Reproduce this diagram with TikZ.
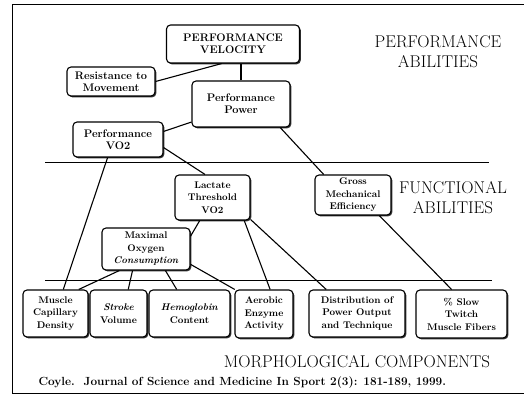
\documentclass[tikz,border=0pt]{standalone}
\usetikzlibrary{shadows}

\begin{document}
\begin{tikzpicture}[x=1pt, y=-1pt,
		box/.style={draw, line width=1.1pt, rounded corners=4pt, fill=white, align=center, inner sep=1pt,
			drop shadow={shadow xshift=1.3pt, shadow yshift=-1.3pt, fill=black!80, opacity=1}},
		big/.style={box, font=\fontsize{11}{12}\selectfont\bfseries},
		small/.style={box, font=\fontsize{9.7}{12.5}\selectfont\bfseries},
		head/.style={align=center, font=\fontsize{17}{20}\selectfont},
		link/.style={line width=1.1pt}]
		\useasboundingbox (0,0) rectangle (524,395);

		% Frame and levels
		\draw[line width=1pt] (524,5) -- (12,5) -- (12,393) -- (524,393);
		\draw[line width=1pt] (45,163) -- (489,163);
		\draw[line width=1pt] (45,280) -- (492,280);

		% Performance abilities
		\node[big, minimum width=133pt, minimum height=38pt] (vel) at (233,44) {PERFORMANCE\\VELOCITY};
		\node[big, minimum width=88pt, minimum height=29pt] (res) at (111,81.5) {Resistance to\\Movement};
		\node[big, minimum width=98pt, minimum height=46pt] (pow) at (241,104) {Performance\\Power};
		\node[big, minimum width=90pt, minimum height=35pt] (vo2) at (118,139.5) {Performance\\VO2};
		\node[head] (perf) at (438,52) {PERFORMANCE\\ABILITIES};

		% Functional abilities
		\node[small, minimum width=75pt, minimum height=45pt] (lac) at (212.5,197.5) {Lactate\\Threshold\\VO2};
		\node[small, minimum width=76pt, minimum height=40pt] (gme) at (353,195) {Gross\\Mechanical\\Efficiency};
		\node[small, minimum width=88pt, minimum height=42pt] (max) at (146,249) {Maximal\\Oxygen\\\textit{Consumption}};
		\node[head] (func) at (453,198) {FUNCTIONAL\\ABILITIES};

		% Morphological components
		\node[small, minimum width=65pt, minimum height=47pt] (mcd) at (55.5,313.5) {Muscle\\Capillary\\Density};
		\node[small, minimum width=57pt, minimum height=47pt] (str) at (118.5,313.5) {\textit{Stroke}\\Volume};
		\node[small, minimum width=81pt, minimum height=47pt] (hem) at (189.5,313.5) {\textit{Hemoglobin}\\Content};
		\node[small, minimum width=58pt, minimum height=48pt] (aer) at (264,314) {Aerobic\\Enzyme\\Activity};
		\node[small, minimum width=96pt, minimum height=47pt] (dis) at (357,313.5) {Distribution of\\Power Output\\and Technique};
		\node[small, minimum width=91pt, minimum height=48pt] (slow) at (461.5,314) {\% Slow\\Twitch\\Muscle Fibers};
		\node[head] (morph) at (357,362) {MORPHOLOGICAL COMPONENTS};
		\node[anchor=west, font=\fontsize{11.8}{13}\selectfont\bfseries] (cite) at (35,383) {Coyle.~~Journal of Science and Medicine In Sport 2(3): 181-189, 1999.};

		% Links
		\draw[link] (pow.north) -- (pow.north |- vel.south);
		\draw[link] (res.east) -- (vel.240);
		\draw[link] (pow.200) -- (vo2.10);
		\draw[link] (pow.-31) -- (gme.145);
		\draw[link] (vo2.-10) -- (lac.108);
		\draw[link] (vo2.240) -- (mcd.72);
		\draw[link] (lac.241) -- (max.16);
		\draw[link] (lac.-36) -- (aer.76);
		\draw[link] (lac.-30) -- (dis.142);
		\draw[link] (gme.-38) -- (slow.112);
		\draw[link] (max.219) -- (mcd.46);
		\draw[link] (max.238) -- (str.68);
		\draw[link] (max.-48) -- (hem.118);
		\draw[link] (max.-19) -- (aer.140);
	\end{tikzpicture}
\end{document}
